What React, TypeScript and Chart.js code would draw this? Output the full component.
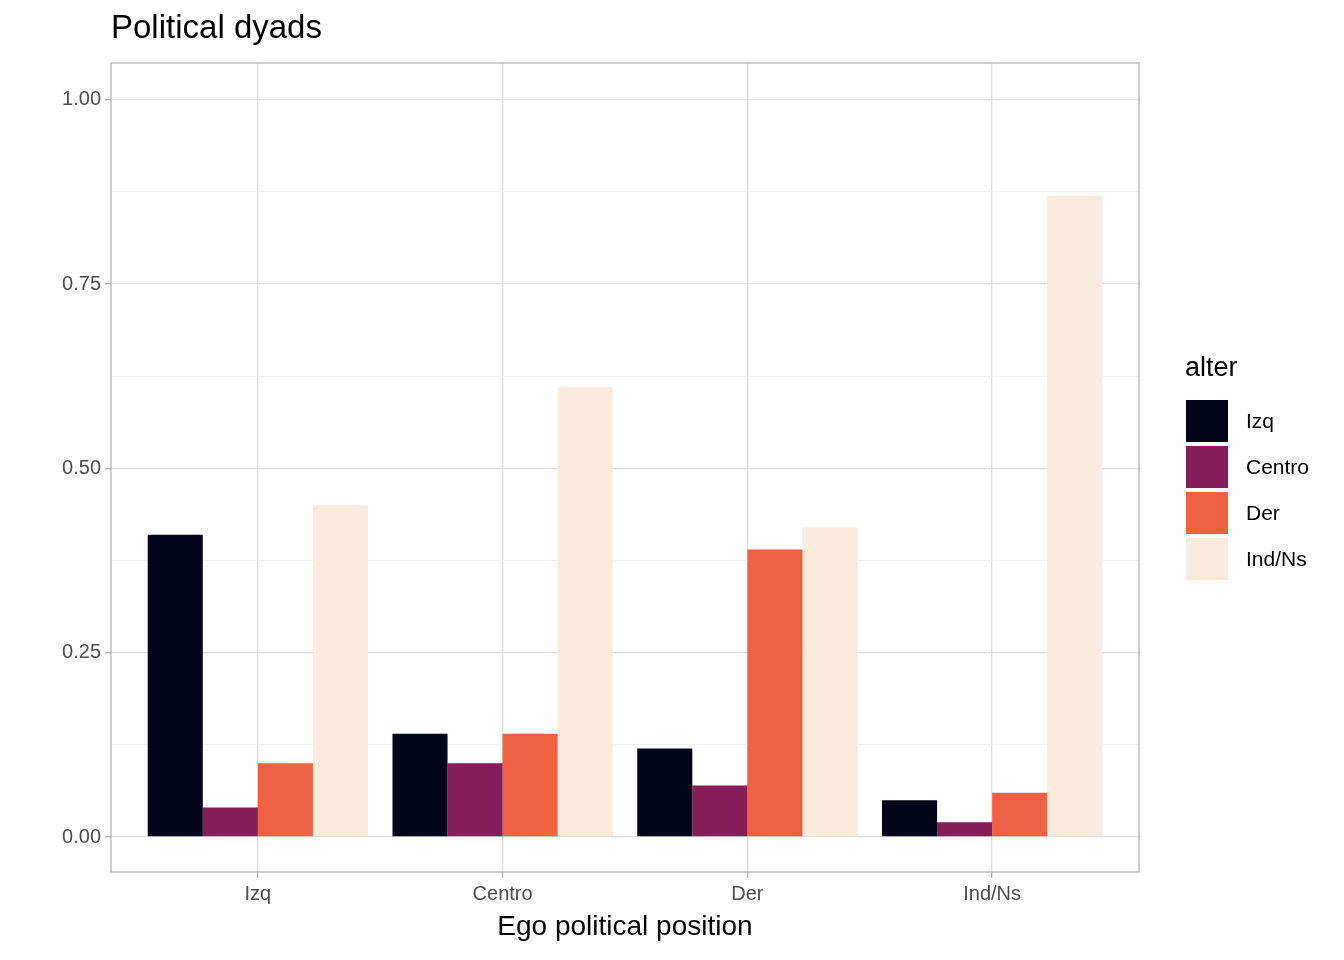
import React, { useEffect, useRef } from "react";
import Chart from "chart.js/auto";

const egoLabels = ["Izq", "Centro", "Der", "Ind/Ns"];
const alterNames = ["Izq", "Centro", "Der", "Ind/Ns"];
const alterColors = ["#03051A", "#841E5A", "#F06043", "#FAEBDD"];
const izqValues = [0.41, 0.14, 0.12, 0.05];
const centroValues = [0.04, 0.1, 0.07, 0.02];
const derValues = [0.1, 0.14, 0.39, 0.06];
const indNsValues = [0.45, 0.61, 0.42, 0.87];
const yTicks = [0, 0.125, 0.25, 0.375, 0.5, 0.625, 0.75, 0.875, 1];

const font = "'Liberation Sans', Arial, sans-serif";

export default function App() {
  const canvasEl = useRef<HTMLCanvasElement>(null);

  useEffect(() => {
    document.body.style.margin = "0";
    if (!canvasEl.current) return;
    const ctx = canvasEl.current.getContext("2d");
    if (!ctx) return;
    const series = [izqValues, centroValues, derValues, indNsValues];
    const chart = new Chart(ctx, {
      type: "bar",
      data: {
        datasets: series.map((vals, i) => ({
          label: alterNames[i],
          data: vals.map((v, j) => ({ x: j + 1, y: v })),
          backgroundColor: alterColors[i],
          borderWidth: 0,
          categoryPercentage: 0.9,
          barPercentage: 1,
        })),
      },
      options: {
        animation: false,
        responsive: false,
        layout: { padding: { left: 0, top: 63, right: 205, bottom: 0 } },
        plugins: { legend: { display: false }, tooltip: { enabled: false } },
        scales: {
          x: {
            type: "linear",
            min: 0.4,
            max: 4.6,
            offset: false,
            afterBuildTicks: (s: any) => {
              s.ticks = [1, 2, 3, 4].map((v) => ({ value: v }));
            },
            afterFit: (s: any) => {
              s.height = 88;
            },
            ticks: {
              callback: (v: any) => egoLabels[Math.round(Number(v)) - 1] ?? "",
              color: "#4d4d4d",
              font: { family: font, size: 20 },
              padding: 4,
              maxRotation: 0,
            },
            grid: { offset: false, color: "#dedede", lineWidth: 1.3, tickLength: 6, tickColor: "#b3b3b3" },
            border: { display: false },
          },
          y: {
            min: -0.0475,
            max: 1.05,
            afterBuildTicks: (s: any) => {
              s.ticks = yTicks.map((v) => ({ value: v }));
            },
            afterFit: (s: any) => {
              s.width = 111;
            },
            ticks: {
              callback: (v: any) => (Math.round(Number(v) * 1000) % 250 === 0 ? Number(v).toFixed(2) : ""),
              color: "#4d4d4d",
              font: { family: font, size: 20 },
              padding: 4,
            },
            grid: {
              color: (c: any) => (Math.round(c.tick.value * 1000) % 250 === 0 ? "#dedede" : "#efefef"),
              lineWidth: (c: any) => (Math.round(c.tick.value * 1000) % 250 === 0 ? 1.3 : 0.8),
              tickLength: 6,
              tickColor: (c: any) => (Math.round(c.tick.value * 1000) % 250 === 0 ? "#b3b3b3" : "rgba(0,0,0,0)"),
            },
            border: { display: false },
          },
        },
      },
      plugins: [
        {
          id: "panelBorder",
          afterDraw: (c: any) => {
            const a = c.chartArea;
            c.ctx.save();
            c.ctx.strokeStyle = "#b3b3b3";
            c.ctx.lineWidth = 1.3;
            c.ctx.strokeRect(a.left, a.top, a.right - a.left, a.bottom - a.top);
            c.ctx.restore();
          },
        },
      ],
    });
    return () => chart.destroy();
  }, []);

  return (
    <div style={{ position: "relative", width: 1344, height: 960, fontFamily: font }}>
      <canvas ref={canvasEl} width={1344} height={960} />
      <div style={{ position: "absolute", left: 111, top: 8, fontSize: 33, color: "#000" }}>Political dyads</div>
      <div style={{ position: "absolute", left: 111, width: 1028, top: 910, textAlign: "center", fontSize: 28 }}>
        Ego political position
      </div>
      <div style={{ position: "absolute", left: 1185, top: 352, fontSize: 27 }}>alter</div>
      {alterNames.map((n, i) => (
        <div key={n} style={{ position: "absolute", left: 1186, top: 400 + i * 46, display: "flex", alignItems: "center" }}>
          <div style={{ width: 42, height: 42, background: alterColors[i] }} />
          <span style={{ marginLeft: 18, fontSize: 21 }}>{n}</span>
        </div>
      ))}
    </div>
  );
}
